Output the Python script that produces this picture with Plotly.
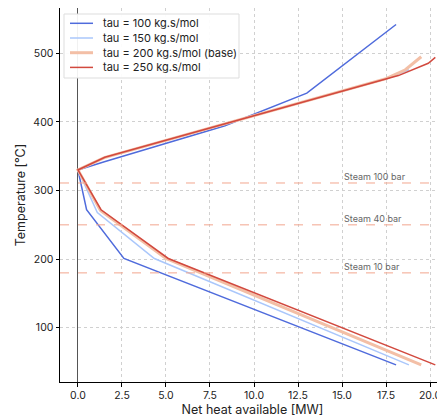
import plotly.graph_objects as go

# ---- data ----
labels = ["tau = 100 kg.s/mol", "tau = 150 kg.s/mol",
          "tau = 200 kg.s/mol (base)", "tau = 250 kg.s/mol"]
heat_100 = [18.07, 2.61, 0.49, 0.0, 1.5, 8.35, 13.0, 18.07]
temp_100 = [46, 201, 272, 330, 342, 394.5, 442, 542]
heat_150 = [18.8, 4.34, 1.1, 0.0, 1.5, 17.5, 18.8]
temp_150 = [46, 201, 268, 330, 348, 463, 476]
heat_200 = [19.5, 5.0, 1.28, 0.0, 1.5, 17.5, 18.6, 19.5]
temp_200 = [46, 201, 271, 330, 348, 463, 476, 495]
heat_250 = [20.3, 5.13, 1.31, 0.0, 1.53, 18.2, 19.9, 20.3]
temp_250 = [46, 201, 272, 330, 348.5, 467.5, 485.5, 494]

steam_labels = ["Steam 100 bar", "Steam 40 bar", "Steam 10 bar"]
steam_temps = [311, 250, 180]
steam_label_x = 15.0

x_ticks = [0, 2.5, 5, 7.5, 10, 12.5, 15, 17.5, 20]
y_ticks = [100, 200, 300, 400, 500]

colors = ["#4f6bdc", "#aac7fb", "#f3bfa6", "#d2493e"]
widths = [1.5, 1.5, 3.0, 1.5]
heats = [heat_100, heat_150, heat_200, heat_250]
temps = [temp_100, temp_150, temp_200, temp_250]

FONT = "Inter"
fig = go.Figure()

for hx, ty, col, w, lab in zip(heats, temps, colors, widths, labels):
    fig.add_trace(go.Scatter(x=hx, y=ty, mode="lines", name=lab,
                             line=dict(color=col, width=w), showlegend=False))

# steam lines
for lab, t in zip(steam_labels, steam_temps):
    fig.add_shape(type="line", xref="paper", x0=0, x1=1, yref="y", y0=t, y1=t,
                  line=dict(color="#f2a68e", width=1, dash="dash"), layer="above")
    fig.add_annotation(x=steam_label_x, y=t, xref="x", yref="y", text=lab,
                       showarrow=False, xanchor="left", yanchor="bottom",
                       yshift=-1, font=dict(family=FONT, size=9, color="#666666"))

# ---- legend box (matplotlib-style, compact rows) ----
PW, PH = 385.0, 374.0          # plot area size in px
def px(xp):                    # ref-left offset px -> paper x
    return xp / PW
def py(yp):                    # px from plot top -> paper y
    return 1 - yp / PH

fig.add_shape(type="rect", xref="paper", yref="paper",
              x0=px(4), x1=px(179), y0=py(70), y1=py(6),
              line=dict(color="#dddddd", width=1), fillcolor="rgba(255,255,255,0.92)",
              layer="above")
row_y = [15.3, 30.0, 44.7, 59.4]
for i, (lab, col, w) in enumerate(zip(labels, colors, widths)):
    fig.add_shape(type="line", xref="paper", yref="paper",
                  x0=px(10), x1=px(33), y0=py(row_y[i]), y1=py(row_y[i]),
                  line=dict(color=col, width=w), layer="above")
    fig.add_annotation(xref="paper", yref="paper", x=px(41), y=py(row_y[i]),
                       text=lab, showarrow=False, xanchor="left", yanchor="middle",
                       font=dict(family=FONT, size=11, color="#222222"))

# the page body has an 8px margin: the figure is sized/offset to compensate
fig.update_layout(
    width=437, height=409,
    margin=dict(l=52, r=0, t=0, b=35, autoexpand=False),
    paper_bgcolor="white", plot_bgcolor="white",
    font=dict(family=FONT, size=10, color="#222222"),
    showlegend=False,
)
fig.update_xaxes(range=[-1.02, 20.85], tickvals=x_ticks, tickformat=".1f",
                 showline=True, linecolor="black", linewidth=1,
                 ticks="outside", ticklen=3.5, tickcolor="black",
                 showgrid=True, gridcolor="#d0d0d0", griddash="dot", gridwidth=0.8,
                 zeroline=True, zerolinecolor="#555555", zerolinewidth=1.2,
                 mirror=False,
                 title=dict(text="Net heat available [MW]", font=dict(size=12.5), standoff=2),
                 tickfont=dict(size=10.5))
fig.update_yaxes(range=[21, 566], tickvals=y_ticks,
                 showline=True, linecolor="black", linewidth=1,
                 ticks="outside", ticklen=3.5, tickcolor="black",
                 showgrid=True, gridcolor="#d0d0d0", griddash="dot", gridwidth=0.8,
                 zeroline=False, mirror=False,
                 title=dict(text="Temperature [°C]", font=dict(size=12.5), standoff=4),
                 tickfont=dict(size=10.5))

fig.write_html("out.html")
